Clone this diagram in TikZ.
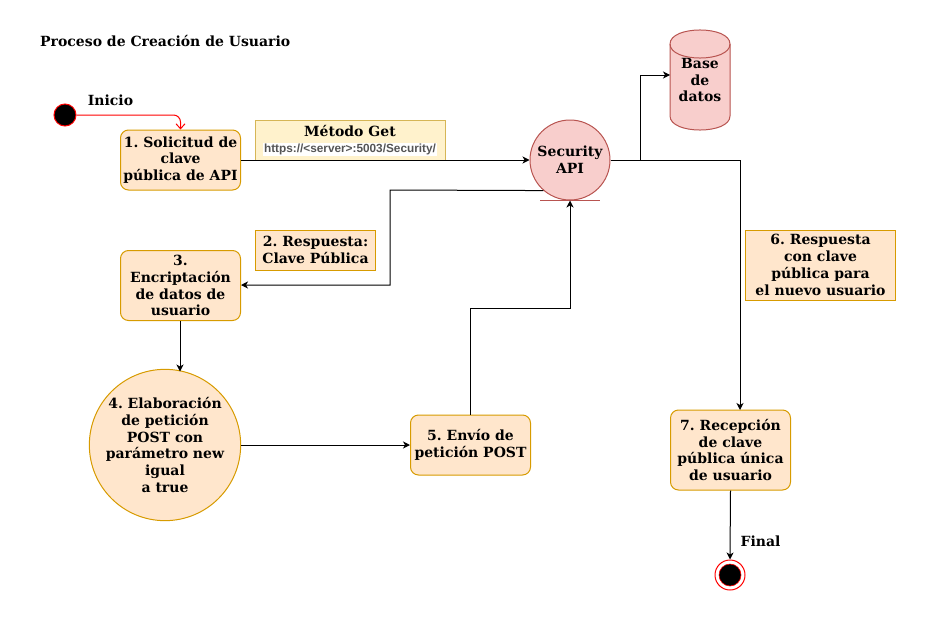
\documentclass[tikz,border=0pt]{standalone}
\usepackage{fontspec}
\setmainfont{DejaVu Serif}
\newfontfamily\urlfont{Liberation Sans}
\usetikzlibrary{arrows.meta}
\frenchspacing

\definecolor{orangeF}{HTML}{FFE6CC}
\definecolor{orangeD}{HTML}{D79B00}
\definecolor{yellowF}{HTML}{FFF2CC}
\definecolor{yellowD}{HTML}{D6B656}
\definecolor{redF}{HTML}{F8CECC}
\definecolor{redD}{HTML}{B85450}
\definecolor{urlgray}{HTML}{555555}

\tikzset{
  txt/.style={font=\fontsize{14}{16.8}\selectfont\bfseries\frenchspacing, align=center, inner sep=0pt},
  stepbox/.style={txt, rectangle, rounded corners=8pt, draw=orangeD, fill=orangeF,
                  line width=1pt},
  stepcircle/.style={txt, circle, draw=orangeD, fill=orangeF, line width=1pt},
  notebox/.style={txt, rectangle, draw=orangeD, fill=orangeF, line width=1pt},
  getbox/.style={rectangle, draw=yellowD, fill=yellowF, line width=1pt, inner sep=0pt},
  conn/.style={draw=black, line width=1pt, -{Stealth[length=7pt,width=7pt,inset=2pt]}},
  startarrow/.style={draw=red, line width=1pt, rounded corners=7pt,
                     -{Straight Barb[length=5pt,width=9pt]}},
}

\begin{document}
\begin{tikzpicture}[x=1pt,y=-1pt]
\useasboundingbox (0,0) rectangle (926,621);

% title
\node[txt, anchor=west] (title) at (40,41) {Proceso de Creación de Usuario};

% start and end markers
\node[circle, draw=red, fill=black, line width=1pt, minimum size=22pt, inner sep=0pt] (start) at (65,115) {};
\node[txt] (inicio) at (110.5,100.5) {Inicio};

\node[circle, draw=red, fill=white, line width=1pt, minimum size=30pt, inner sep=0pt] (final) at (730,575) {};
\node[circle, draw=red, fill=black, line width=0.6pt, minimum size=22pt, inner sep=0pt] (finalin) at (730,575) {};
\node[txt] (finaltxt) at (760.5,541) {Final};

% process steps
\node[stepbox, minimum width=120pt, minimum height=60pt] (n1) at (180.5,160)
  {1. Solicitud de\\clave\\pública de API};
\node[stepbox, minimum width=120pt, minimum height=70pt] (n3) at (180.5,285.5)
  {3.\\Encriptación\\de datos de\\usuario};
\node[stepcircle, minimum size=150pt] (n4) at (165,445)
  {4. Elaboración\\de petición\\POST con\\parámetro new\\igual\\a true};
\node[stepbox, minimum width=120pt, minimum height=60pt] (n5) at (470.5,445)
  {5. Envío de\\petición POST};
\node[stepbox, minimum width=120pt, minimum height=80pt] (n7) at (730.5,450)
  {7. Recepción\\de clave\\pública única\\de usuario};

% security API entity
\node[txt, circle, draw=redD, fill=redF, line width=1pt, minimum size=80pt] (api) at (570,160)
  {Security\\API};
\coordinate (ulL) at (540,200);
\coordinate (ulR) at (600,200);
\draw[redD, line width=1pt] (ulL) -- (ulR);

% database cylinder
\coordinate (db) at (700,80);
\draw[draw=redD, fill=redF, line width=1pt]
  (670,44) .. controls (670,25.3) and (730,25.3) .. (730,44)
  -- (730,116) .. controls (730,134.7) and (670,134.7) .. (670,116) -- cycle;
\draw[draw=redD, line width=1pt]
  (670,44) .. controls (670,62.7) and (730,62.7) .. (730,44);
\node[txt] (dbtxt) at (db) {Base\\de\\datos};

% labels
\node[getbox, minimum width=190pt, minimum height=40pt] (getlbl) at (350,140) {};
\node[txt] (gettitle) at (350,131) {Método Get};
\node[font=\urlfont\fontsize{11.8}{13}\selectfont\bfseries, text=urlgray, fill=white,
      inner sep=1.2pt] (geturl) at (350,149.5) {https://<server>:5003/Security/};

\node[notebox, minimum width=120pt, minimum height=40pt] (lbl2) at (315.5,250)
  {2. Respuesta:\\Clave Pública};
\node[notebox, minimum width=150pt, minimum height=70pt] (lbl6) at (820.5,265)
  {6. Respuesta\\con clave\\pública para\\el nuevo usuario};

% connectors
\draw[startarrow] (start.east) -- (n1.north |- start.east) -- (n1.north);
\draw[conn] (n1.east) -- (api.west);
\draw[conn] (api.east) -- (640,160) -- (640,75) -- (670,75);
\draw[conn] (api.east) -- (740,160) -- (740,410);
\draw[conn] (api.-131) -- (390,190) -- (390,285) -- (n3.east |- 390,285);
\draw[conn] (n3.south -| 180,0) -- (180,371.5);
\draw[conn] (n4.east) -- (n5.west);
\draw[conn] (n5.north) -- (470.5,308) -- (570,308) -- (api.south);
\draw[conn] (n7.south) -- (final.north);
\end{tikzpicture}
\end{document}
